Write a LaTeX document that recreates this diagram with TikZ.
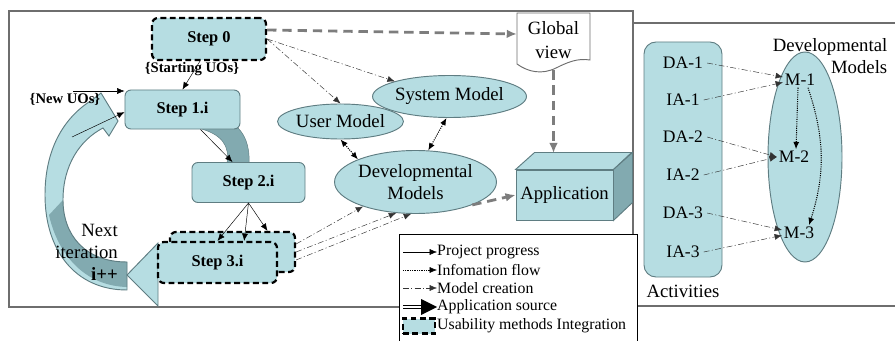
\documentclass[tikz,border=0pt]{standalone}
\usepackage{fontspec}
\setmainfont{LiberationSerif}[Extension=.ttf, UprightFont=*-Regular, BoldFont=*-Bold, ItalicFont=*-Italic, BoldItalicFont=*-BoldItalic]
\usetikzlibrary{shapes.geometric,arrows.meta}

\definecolor{boxblue}{RGB}{182,221,226}
\definecolor{boxedge}{RGB}{95,125,130}
\definecolor{loopdark}{RGB}{130,170,176}
\definecolor{srcgrey}{RGB}{125,125,125}
\definecolor{framegrey}{RGB}{110,110,110}

\newcommand{\txtbig}{\fontsize{16}{18.7}\selectfont}
\newcommand{\txtstep}{\fontsize{14}{16}\selectfont\bfseries}
\newcommand{\txtmid}{\fontsize{13.5}{15}\selectfont}
\newcommand{\txtuo}{\fontsize{12.5}{14}\selectfont\bfseries}
\newcommand{\txtitem}{\fontsize{15}{17}\selectfont}
\newcommand{\looppath}{(127,290) .. controls (75,290) and (45,250) .. (45,195) .. controls (45,150) and (63,118) .. (92,100) -- (101,93) -- (118,121) -- (109,136) -- (103,128) .. controls (80,140) and (63,165) .. (63,200) .. controls (63,235) and (85,262) .. (127,262) -- cycle}

\begin{document}
\begin{tikzpicture}[x=0.03cm,y=-0.03cm]
        \tikzstyle{stepbox}=[rectangle, rounded corners=0.18cm, fill=boxblue, draw=boxedge, thick, inner sep=0cm, font=\txtstep]
        \tikzstyle{umibox}=[stepbox, draw=black, line width=1.9pt, dash pattern=on 5pt off 3pt]
        \tikzstyle{modelell}=[ellipse, fill=boxblue, draw=boxedge, thick, inner sep=0cm, font=\txtbig, align=center]
        \tikzstyle{legtext}=[anchor=west, inner sep=0cm, font=\txtmid]
        \tikzstyle{progarrow}=[black, thin, -{Latex[length=2.2mm,width=1.8mm]}]
        \tikzstyle{infoarrow}=[black, densely dotted, line width=0.9pt, -{Latex[length=2.2mm,width=1.8mm]}]
        \tikzstyle{modelarrow}=[black!80, thin, dash pattern=on 5pt off 2pt on 1pt off 2pt, -{Latex[length=2.2mm,width=1.8mm]}]
        \tikzstyle{srcarrow}=[srcgrey, line width=2.4pt, dash pattern=on 8pt off 5pt, -{Latex[length=3mm,width=2.6mm]}]
        \useasboundingbox (0,0) rectangle (895,341);

        % frames round the two parts
        \draw[framegrey, line width=0.9pt] (9,11) rectangle (633,307);
        \draw[framegrey, line width=0.9pt] (633,23) -- (895,23);
        \draw[framegrey, line width=0.9pt] (637,306) -- (895,306);

        % the big arrow of the next iteration
        \fill[boxblue] \looppath;
        \fill[loopdark] (49,215) .. controls (58,255) and (85,286) .. (127,287) -- (127,262) .. controls (85,262) and (63,235) .. (63,200) -- cycle;
        \draw[boxedge, thick] \looppath;
        \filldraw[fill=boxblue, draw=boxedge, thick] (158,243) -- (127,275) -- (158,306) -- cycle;
        \filldraw[fill=loopdark, draw=boxedge, thin] (198,128) .. controls (222,134) and (230,146) .. (227,163) -- (249,163) .. controls (250,145) and (244,134) .. (238,128) -- cycle;

        % the steps
        \node[umibox, minimum width=3.42cm, minimum height=1.26cm] at (209,39) (step0) {Step 0};
        \node[stepbox, minimum width=3.45cm, minimum height=1.17cm] at (182.5,109.5) (step1) {Step 1.i};
        \node[stepbox, minimum width=3.39cm, minimum height=1.2cm] at (248.5,182.5) (step2) {Step 2.i};
        \node[umibox, minimum width=3.75cm, minimum height=1.2cm] at (232.5,252) (step3b) {};
        \node[umibox, minimum width=3.57cm, minimum height=1.23cm] at (217.5,262.5) (step3) {Step 3.i};

        \node[font=\txtuo, inner sep=0cm] at (192,69) (startuo) {\{Starting UOs\}};
        \node[font=\txtuo, inner sep=0cm] at (65,99) (newuo) {\{New UOs\}};
        \node[font=\fontsize{16}{18.7}\selectfont, align=right, anchor=east, inner sep=0cm] at (118,252) (nextit) {Next\\iteration\\\textbf{i++}};

        % the models and the application
        \node[modelell, minimum width=3.69cm, minimum height=1.26cm] at (449.5,96.5) (sysm) {System Model};
        \node[modelell, minimum width=3.3cm, minimum height=1.05cm] at (340.5,121.5) (usrm) {User Model};
        \node[modelell, minimum width=4.11cm, minimum height=1.89cm] at (415.5,182) (devm) {Developmental\\Models};

        \node[rectangle, fill=boxblue, draw=boxedge, thick, minimum width=2.91cm, minimum height=1.5cm, inner sep=0cm, font=\txtbig] at (564.5,195) (app) {Application};
        \filldraw[fill=boxblue, draw=boxedge, thick] (app.north west) -- ++(19,-17) -- ++(97,0) -- (app.north east) -- cycle;
        \filldraw[fill=loopdark, draw=boxedge, thick] (app.north east) -- ++(19,-17) -- ++(0,50) -- (app.south east) -- cycle;
        \coordinate (apptop) at (554,153);

        % global view sheet
        \filldraw[fill=white, draw=framegrey, thick] (517,13) -- (590,13) -- (590,60) .. controls (578,58) and (568,62) .. (556,68) .. controls (542,75) and (528,72) .. (517,64) -- cycle;
        \node[inner sep=0cm, minimum width=2.19cm, minimum height=1.8cm, align=center, font=\fontsize{16}{20}\selectfont] at (553.5,40) (global) {Global\\view};

        % project progress
        \draw[progarrow] ([xshift=-0.27cm]step0.south) -- (step1.north);
        \draw[progarrow] ([xshift=0.54cm]step1.south) -- ([xshift=-0.48cm]step2.north);
        \draw[progarrow] (step2.south) -- (step3.north);
        \draw[progarrow] (step2.south) -- ([xshift=0.8cm]step3.north);
        \draw[progarrow] (step2.south) -- ([xshift=1.05cm]step3b.north);
        \coordinate (nuo) at (73,91);
        \coordinate (nit) at (72,137);
        \draw[progarrow] (nuo) -- (nuo -| step1.west);
        \draw[progarrow] (nit) -- ([yshift=-0.08cm]step1.west);

        % model creation
        \draw[modelarrow] (step0.east) -- (sysm.north west);
        \draw[modelarrow] (step0.east) -- (usrm.north);
        \draw[modelarrow] ([yshift=0.24cm]step3b.east) -- (devm.205);
        \draw[modelarrow] (step3b.east) -- (devm.238);
        \draw[modelarrow] ([yshift=-0.24cm]step3b.east) -- (devm.262);

        % information flow
        \draw[infoarrow, {Latex[length=2.2mm,width=1.8mm]}-{Latex[length=2.2mm,width=1.8mm]}] (usrm.south) -- (devm.north west);
        \draw[infoarrow, {Latex[length=2.2mm,width=1.8mm]}-{Latex[length=2.2mm,width=1.8mm]}] (sysm.262) -- (devm.68);

        % application source
        \draw[srcarrow] ([yshift=0.27cm]step0.east) -- ([yshift=0.18cm]global.west);
        \draw[srcarrow] (global.south) -- (global.south |- apptop);
        \draw[srcarrow] (devm.-22) -- (app.west);

        % right part: activities and models
        \node[rectangle, rounded corners=0.36cm, fill=boxblue, draw=boxedge, thick, minimum width=2.34cm, minimum height=7.05cm] at (683,159.5) (acts) {};
        \node[font=\txtbig] at (683,291) (actlabel) {Activities};
        \node[ellipse, fill=boxblue, draw=boxedge, thick, minimum width=2.22cm, minimum height=6.3cm] at (805,157) (devr) {};
        \node[font=\txtbig, align=right, inner sep=0cm] at (830,56) (devrlabel) {Developmental\\Models};

        \node[font=\txtitem] at (683,63) (da1) {DA-1};
        \node[font=\txtitem] at (683,100) (ia1) {IA-1};
        \node[font=\txtitem] at (683,137) (da2) {DA-2};
        \node[font=\txtitem] at (683,175) (ia2) {IA-2};
        \node[font=\txtitem] at (683,213) (da3) {DA-3};
        \node[font=\txtitem] at (683,252) (ia3) {IA-3};
        \node[font=\txtitem, inner sep=0.05cm] at (800,80) (m1) {M-1};
        \node[font=\txtitem, inner sep=0.05cm] at (794,157) (m2) {M-2};
        \node[font=\txtitem, inner sep=0.05cm] at (799,233) (m3) {M-3};

        \draw[modelarrow] (da1.east) -- (m1.170);
        \draw[modelarrow] (ia1.east) -- (m1.188);
        \draw[modelarrow] (da2.east) -- (m2.west);
        \draw[modelarrow] (ia2.east) -- (m2.west);
        \draw[modelarrow] (da3.east) -- (m3.170);
        \draw[modelarrow] (ia3.east) -- (m3.188);
        \draw[infoarrow] ([xshift=-0.06cm]m1.south) -- ([xshift=0.06cm]m2.north);
        \draw[infoarrow] ([xshift=0.24cm]m1.south) to[bend left=18] ([xshift=0.3cm]m3.north);

        % legend
        \node[draw=black, thin, fill=white, minimum width=7.14cm, minimum height=3.21cm, inner sep=0cm] at (518,287.5) (legend) {};
        \node[legtext] at (437,252) (lg1) {Project progress};
        \node[legtext] at (437,270) (lg2) {Infomation flow};
        \node[legtext] at (437,288) (lg3) {Model creation};
        \node[legtext] at (437,307) (lg4) {Application source};
        \node[legtext] at (437,326) (lg5) {Usability methods Integration};
        \coordinate (ls1) at (403,252);
        \coordinate (ls2) at (403,270);
        \coordinate (ls3) at (403,288);
        \coordinate (ls4) at (403,307);
        \coordinate (ls4b) at (421,307);
        \draw[progarrow] (ls1) -- (lg1.west);
        \draw[infoarrow, line width=0.5pt] (ls2) -- (lg2.west);
        \draw[modelarrow] (ls3) -- (lg3.west);
        \draw[black, double, double distance=1.6pt, line width=1pt] (ls4) -- (ls4b);
        \fill[black] (lg4.west) -- (ls4b |- 0,299) -- (ls4b |- 0,315) -- cycle;
        \node[rectangle, fill=boxblue, draw=black, line width=1.9pt, dash pattern=on 5pt off 3pt, minimum width=0.96cm, minimum height=0.45cm, inner sep=0cm] at (419,326) (lgbox) {};
    \end{tikzpicture}
\end{document}
